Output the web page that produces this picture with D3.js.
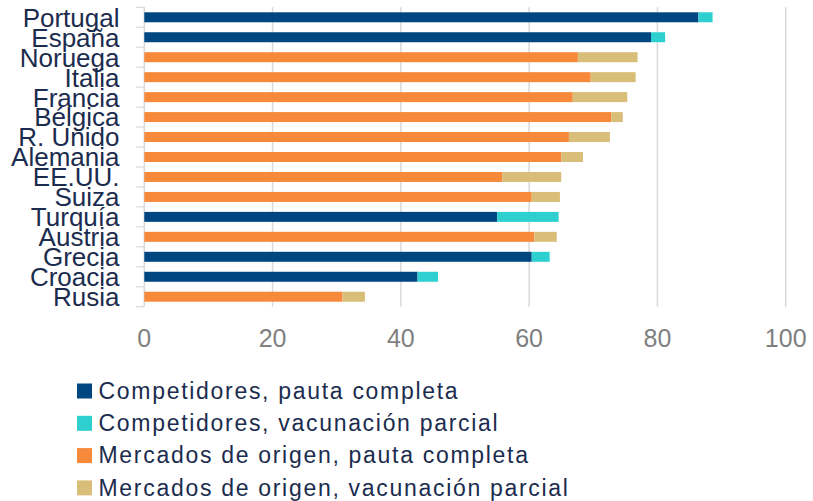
<!DOCTYPE html>
<html>
<head>
<meta charset="utf-8">
<script src="https://cdn.jsdelivr.net/npm/d3@7"></script>
<style>
  body { margin: 0; background: #fff; }
  text { font-family: "Liberation Sans", Arial, sans-serif; }
</style>
</head>
<body>
<div id="chart"></div>
<script>
// countries, top to bottom
var countries = ["Portugal", "España", "Noruega", "Italia", "Francia", "Bélgica", "R. Unido",
  "Alemania", "EE.UU.", "Suiza", "Turquía", "Austria", "Grecia", "Croacia", "Rusia"];
// true = competidor, false = mercado de origen
var isCompetitor = [true, true, false, false, false, false, false, false, false, false, true, false, true, true, false];
// % pauta completa
var fullDose = [86.4, 79.0, 67.6, 69.6, 66.8, 72.8, 66.2, 65.0, 55.8, 60.4, 55.0, 60.8, 60.4, 42.6, 30.9];
// % vacunación parcial (extra)
var partialDose = [2.2, 2.2, 9.3, 7.0, 8.5, 1.8, 6.4, 3.4, 9.2, 4.4, 9.6, 3.5, 2.8, 3.2, 3.5];

var xTicks = [0, 20, 40, 60, 80, 100];
var legendLabels = ["Competidores, pauta completa", "Competidores, vacunación parcial",
  "Mercados de origen, pauta completa", "Mercados de origen, vacunación parcial"];
var legendColors = ["#004680", "#2ecfcf", "#f6893a", "#d8be78"];

var width = 813, height = 501;

var svg = d3.select("#chart").append("svg")
    .attr("width", width)
    .attr("height", height);

var x = d3.scaleLinear().domain([0, 100]).range([144.3, 785.7]);
var y = d3.scaleBand().domain(countries).range([7.3, 306.7])
    .paddingInner(0.5).paddingOuter(0.25);

// gridlines
svg.append("g")
  .selectAll("line")
  .data(xTicks)
  .enter().append("line")
    .attr("x1", function (d) { return x(d); })
    .attr("x2", function (d) { return x(d); })
    .attr("y1", 7.3)
    .attr("y2", 306.7)
    .attr("stroke", "#d9d9d9")
    .attr("stroke-width", 1.5);

// category tick marks at band boundaries
var step = y.step();
var bounds = d3.range(countries.length + 1).map(function (i) { return 7.3 + i * step; });
svg.append("g")
  .selectAll("line")
  .data(bounds)
  .enter().append("line")
    .attr("x1", 136)
    .attr("x2", x(0))
    .attr("y1", function (d) { return d; })
    .attr("y2", function (d) { return d; })
    .attr("stroke", "#d9d9d9")
    .attr("stroke-width", 1.2);

// bars
var rows = countries.map(function (c, i) {
  return { name: c, comp: isCompetitor[i], full: fullDose[i], part: partialDose[i] };
});

var g = svg.append("g");
g.selectAll(".full")
  .data(rows)
  .enter().append("rect")
    .attr("class", "full")
    .attr("x", x(0))
    .attr("y", function (d) { return y(d.name); })
    .attr("height", y.bandwidth())
    .attr("width", function (d) { return x(d.full) - x(0); })
    .attr("fill", function (d) { return d.comp ? legendColors[0] : legendColors[2]; });

g.selectAll(".part")
  .data(rows)
  .enter().append("rect")
    .attr("class", "part")
    .attr("x", function (d) { return x(d.full); })
    .attr("y", function (d) { return y(d.name); })
    .attr("height", y.bandwidth())
    .attr("width", function (d) { return x(d.full + d.part) - x(d.full); })
    .attr("fill", function (d) { return d.comp ? legendColors[1] : legendColors[3]; });

// category labels
svg.append("g")
  .selectAll("text")
  .data(countries)
  .enter().append("text")
    .attr("x", 119.5)
    .attr("y", function (d) { return y(d) + y.bandwidth() / 2 + 9.4; })
    .attr("text-anchor", "end")
    .attr("font-size", 26)
    .attr("fill", "#1b2c4e")
    .text(function (d) { return d; });

// x tick labels
svg.append("g")
  .selectAll("text")
  .data(xTicks)
  .enter().append("text")
    .attr("x", function (d) { return x(d); })
    .attr("y", 347)
    .attr("text-anchor", "middle")
    .attr("font-size", 25)
    .attr("fill", "#7f7f7f")
    .text(function (d) { return d; });

// legend
var leg = svg.append("g")
  .selectAll("g")
  .data(legendLabels)
  .enter().append("g")
    .attr("transform", function (d, i) { return "translate(0," + (391 + i * 32.3) + ")"; });

leg.append("rect")
    .attr("x", 77)
    .attr("y", -7.5)
    .attr("width", 15)
    .attr("height", 15)
    .attr("fill", function (d, i) { return legendColors[i]; });

leg.append("text")
    .attr("x", 98.5)
    .attr("y", 7.8)
    .attr("font-size", 23)
    .attr("letter-spacing", 1.7)
    .attr("fill", "#1b2c4e")
    .text(function (d) { return d; });
</script>
</body>
</html>
